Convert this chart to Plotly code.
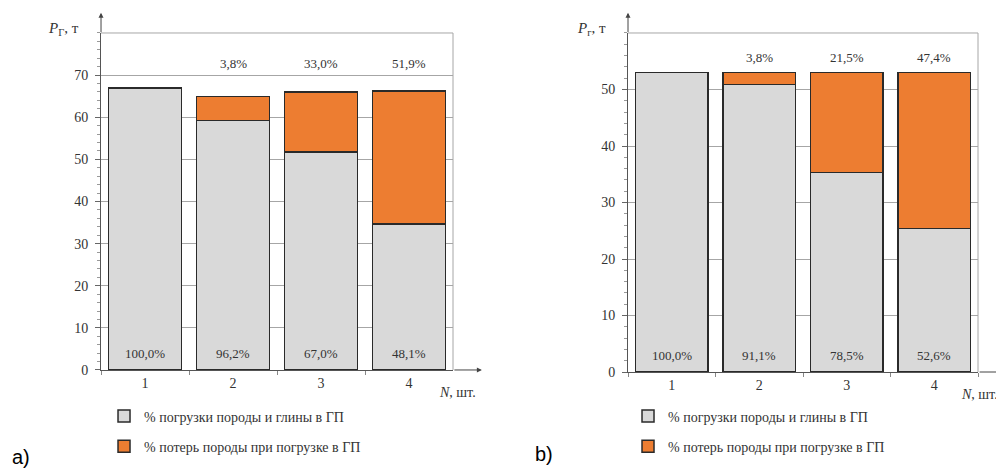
import plotly.graph_objects as go

# ---------------- data ----------------
categories = ["1", "2", "3", "4"]

a_loaded = [67.0, 59.2, 51.7, 34.6]
a_lost = [0.0, 5.7, 14.3, 31.6]
a_bottom_labels = ["100,0%", "96,2%", "67,0%", "48,1%"]
a_top_labels = ["", "3,8%", "33,0%", "51,9%"]
a_ticks = [0, 10, 20, 30, 40, 50, 60, 70]

b_loaded = [53.0, 50.9, 35.3, 25.4]
b_lost = [0.0, 2.1, 17.7, 27.6]
b_bottom_labels = ["100,0%", "91,1%", "78,5%", "52,6%"]
b_top_labels = ["", "3,8%", "21,5%", "47,4%"]
b_ticks = [0, 10, 20, 30, 40, 50]

legend_names = ["% погрузки породы и глины в ГП", "% потерь породы при погрузке в ГП"]
panel_labels = ["a)", "b)"]

# ---------------- style ----------------
GRAY = "#d9d9d9"
ORANGE = "#ed7d31"
EDGE = "#2a2a2a"
SERIF = "Liberation Serif"
TXT = "#333333"

fig = go.Figure()

panels = [
    dict(xa="x", ya="y", xd="x domain", yd="y domain", legend="legend",
         loaded=a_loaded, lost=a_lost, bottom=a_bottom_labels, top=a_top_labels,
         top_y=72.8, ylab="<i>P</i><sub>Г</sub>, т", nx=1.071, arrow_x=1.082, arrow_ax=-29),
    dict(xa="x2", ya="y2", xd="x2 domain", yd="y2 domain", legend="legend2",
         loaded=b_loaded, lost=b_lost, bottom=b_bottom_labels, top=b_top_labels,
         top_y=55.6, ylab="<i>P</i><sub>г</sub>, т", nx=1.063, arrow_x=1.066, arrow_ax=-23),
]

annotations = []
shapes = []
for k, p in enumerate(panels):
    fig.add_trace(go.Bar(
        x=categories, y=p["loaded"], name=legend_names[0],
        marker=dict(color=GRAY, line=dict(color=EDGE, width=1.5)),
        xaxis=p["xa"], yaxis=p["ya"], legend=p["legend"], legendgroup=f"g{k}a",
        hoverinfo="skip"))
    fig.add_trace(go.Bar(
        x=categories, y=p["lost"], name=legend_names[1],
        marker=dict(color=ORANGE, line=dict(color=EDGE, width=1.5)),
        xaxis=p["xa"], yaxis=p["ya"], legend=p["legend"], legendgroup=f"g{k}b",
        hoverinfo="skip"))

    for i, lab in enumerate(p["bottom"]):
        annotations.append(dict(x=i, y=0, xref=p["xa"], yref=p["ya"], text=lab,
                                showarrow=False, yanchor="bottom", yshift=7,
                                font=dict(family=SERIF, size=13, color=TXT)))
    for i, lab in enumerate(p["top"]):
        if lab:
            annotations.append(dict(x=i, y=p["top_y"], xref=p["xa"], yref=p["ya"], text=lab,
                                    showarrow=False,
                                    font=dict(family=SERIF, size=13, color=TXT)))
    # axis title labels
    annotations.append(dict(x=0, y=1, xref=p["xd"], yref=p["yd"], text=p["ylab"],
                            showarrow=False, xanchor="right", yanchor="middle",
                            xshift=-20, yshift=4,
                            font=dict(family=SERIF, size=15, color=TXT)))
    annotations.append(dict(x=p["nx"], y=0, xref=p["xd"], yref=p["yd"], text="<i>N</i>, шт.",
                            showarrow=False, xanchor="right", yanchor="top",
                            yshift=-13,
                            font=dict(family=SERIF, size=14, color=TXT)))
    # axis arrows
    annotations.append(dict(x=p["arrow_x"], y=0, xref=p["xd"], yref=p["yd"], text="",
                            showarrow=True, ax=p["arrow_ax"], ay=0, arrowhead=2, arrowsize=1,
                            arrowwidth=1, arrowcolor="#444"))
    annotations.append(dict(x=0, y=1.06, xref=p["xd"], yref=p["yd"], text="",
                            showarrow=True, ax=0, ay=21, arrowhead=2, arrowsize=1,
                            arrowwidth=1, arrowcolor="#444"))
    # frame: top and right borders
    shapes.append(dict(type="line", xref=p["xd"], yref=p["yd"], x0=0, x1=1, y0=1, y1=1,
                       line=dict(color="#a6a6a6", width=1)))
    shapes.append(dict(type="line", xref=p["xd"], yref=p["yd"], x0=1, x1=1, y0=0, y1=1,
                       line=dict(color="#a6a6a6", width=1)))

annotations.append(dict(x=0.002, y=0.028, xref="paper", yref="paper", text=panel_labels[0],
                        showarrow=False, xanchor="left", yanchor="middle",
                        font=dict(family="Liberation Sans", size=20, color="#000")))
annotations.append(dict(x=0.527, y=0.035, xref="paper", yref="paper", text=panel_labels[1],
                        showarrow=False, xanchor="left", yanchor="middle",
                        font=dict(family="Liberation Sans", size=20, color="#000")))

xaxis_common = dict(type="category", tickson="boundaries", ticks="outside", ticklen=4,
                    tickcolor="#888", showline=True, linecolor="#555", linewidth=1,
                    showgrid=False, zeroline=False, range=[-0.5, 3.5],
                    tickfont=dict(family=SERIF, size=14, color=TXT), fixedrange=True)
yaxis_common = dict(showline=True, linecolor="#555", linewidth=1, ticks="outside",
                    ticklen=5, tickcolor="#666", showgrid=True, gridcolor="#a6a6a6",
                    gridwidth=1, zeroline=False, ticklabelstandoff=4,
                    minor=dict(dtick=2, ticks="outside", ticklen=3, tickcolor="#999",
                               showgrid=False),
                    tickfont=dict(family=SERIF, size=14, color=TXT), fixedrange=True)

legend_common = dict(orientation="v", yanchor="top", y=0.1504, xanchor="left",
                     bgcolor="rgba(0,0,0,0)", tracegroupgap=9, itemwidth=30,
                     font=dict(family=SERIF, size=14, color=TXT), traceorder="grouped")

# figure is 996x462: the page's default 8px body margin places it at (8, 8)
fig.update_layout(
    width=996, height=462,
    margin=dict(l=0, r=0, t=0, b=0, autoexpand=False),
    paper_bgcolor="white", plot_bgcolor="white",
    font=dict(family=SERIF),
    barmode="stack", bargap=0.17,
    showlegend=True,
    xaxis=dict(domain=[0.0934, 0.4468], anchor="y", **xaxis_common),
    yaxis=dict(domain=[0.2165, 0.9459], anchor="x", range=[0, 80], tickvals=a_ticks, **yaxis_common),
    xaxis2=dict(domain=[0.6225, 0.9739], anchor="y2", **xaxis_common),
    yaxis2=dict(domain=[0.2121, 0.9459], anchor="x2", range=[0, 60], tickvals=b_ticks, **yaxis_common),
    legend=dict(x=0.0964, **legend_common),
    legend2=dict(x=0.6225, **legend_common),
    annotations=annotations,
    shapes=shapes,
)

fig.write_html("out.html")
